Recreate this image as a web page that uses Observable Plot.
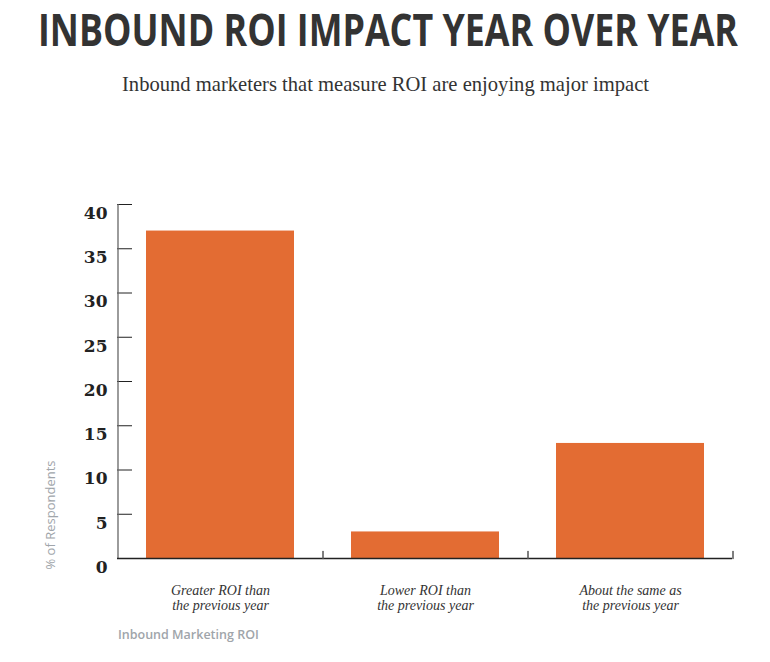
<!DOCTYPE html>
<html>
<head>
<meta charset="utf-8">
<script src="https://cdn.jsdelivr.net/npm/d3@7"></script>
<script src="https://cdn.jsdelivr.net/npm/@observablehq/plot@0.6"></script>
<style>
  html, body { margin: 0; padding: 0; background: #fff; }
  #wrap { position: relative; width: 770px; height: 662px; overflow: hidden; }
  .abs { position: absolute; white-space: nowrap; }
  #title { top: 4px; left: 0; font-family: "Open Sans", sans-serif; font-weight: 700; font-size: 44px; line-height: 50px; color: #333; transform-origin: 0 0; }
  #subtitle { top: 72px; left: 0; font-family: "Liberation Serif", serif; font-size: 21px; line-height: 24px; color: #333; transform-origin: 0 0; }
  #chart { position: absolute; top: 100px; left: 0; }
  #ylabel { left: 50px; top: 515px; transform: translate(-50%, -50%) rotate(-90deg); font-family: "Open Sans", sans-serif; font-size: 13px; color: #a0a5aa; }
  #caption { left: 118px; top: 627px; font-family: "Open Sans", sans-serif; font-weight: 600; font-size: 12.5px; line-height: 16px; color: #a0a5aa; }
</style>
</head>
<body>
<div id="wrap">
  <div id="title" class="abs">INBOUND ROI IMPACT YEAR OVER YEAR</div>
  <div id="subtitle" class="abs">Inbound marketers that measure ROI are enjoying major impact</div>
  <div id="chart"></div>
  <div id="ylabel" class="abs">% of Respondents</div>
  <div id="caption" class="abs">Inbound Marketing ROI</div>
</div>
<script>
const categories = [
  "Greater ROI than\nthe previous year",
  "Lower ROI than\nthe previous year",
  "About the same as\nthe previous year"
];
const values = [37, 3, 13];
const yTicks = [0, 5, 10, 15, 20, 25, 30, 35, 40];

const data = categories.map((c, i) => ({category: c, value: values[i]}));

const W = 770, H = 520, ML = 117, MR = 38, MT = 104, MB = 62;
const step = (W - ML - MR) / categories.length;
const tickLine = {draw(context, l) { context.moveTo(0, 0); context.lineTo(0, -l); }};

const chart = Plot.plot({
  width: W, height: H,
  marginLeft: ML, marginRight: MR, marginTop: MT, marginBottom: MB,
  style: {background: "transparent", overflow: "visible"},
  x: {domain: categories, paddingInner: 0.28, paddingOuter: 0.14, axis: null},
  y: {domain: [0, 40], axis: null},
  marks: [
    Plot.barY(data, {x: "category", y: "value", fill: "#e36c33"}),
    Plot.axisY(yTicks, {tickSize: -15, tickFormat: () => "", stroke: "#222", label: null}),
    Plot.axisY(yTicks, {tickSize: 0, tickPadding: 10, dy: 9, fontFamily: "DejaVu Serif", fontWeight: "bold", fontSize: 17, fill: "#222", label: null}),
    Plot.ruleX([categories[0]], {x: d => d, y1: 0, y2: 40, dx: -step / 2, stroke: "#666", strokeWidth: 1.3}),
    Plot.ruleY([0], {stroke: "#222", strokeWidth: 1.3}),
    Plot.vector(categories, {x: d => d, frameAnchor: "bottom", length: 7, anchor: "start", shape: tickLine, dx: step / 2, stroke: "#555", strokeWidth: 1.5}),
    Plot.text(categories, {x: d => d, frameAnchor: "bottom", lineAnchor: "top", dy: 26, lineHeight: 1.07, fontFamily: "Liberation Serif", fontStyle: "italic", fontSize: 14, fill: "#333"})
  ]
});
document.getElementById("chart").appendChild(chart);

function fit(sel, target, center) {
  const el = document.querySelector(sel);
  const w = el.getBoundingClientRect().width;
  const k = target / w;
  el.style.left = (center - target / 2) + "px";
  el.style.transform = `scaleX(${k})`;
}
fit("#title", 700, 388);
fit("#subtitle", 527, 385.5);
</script>
</body>
</html>
